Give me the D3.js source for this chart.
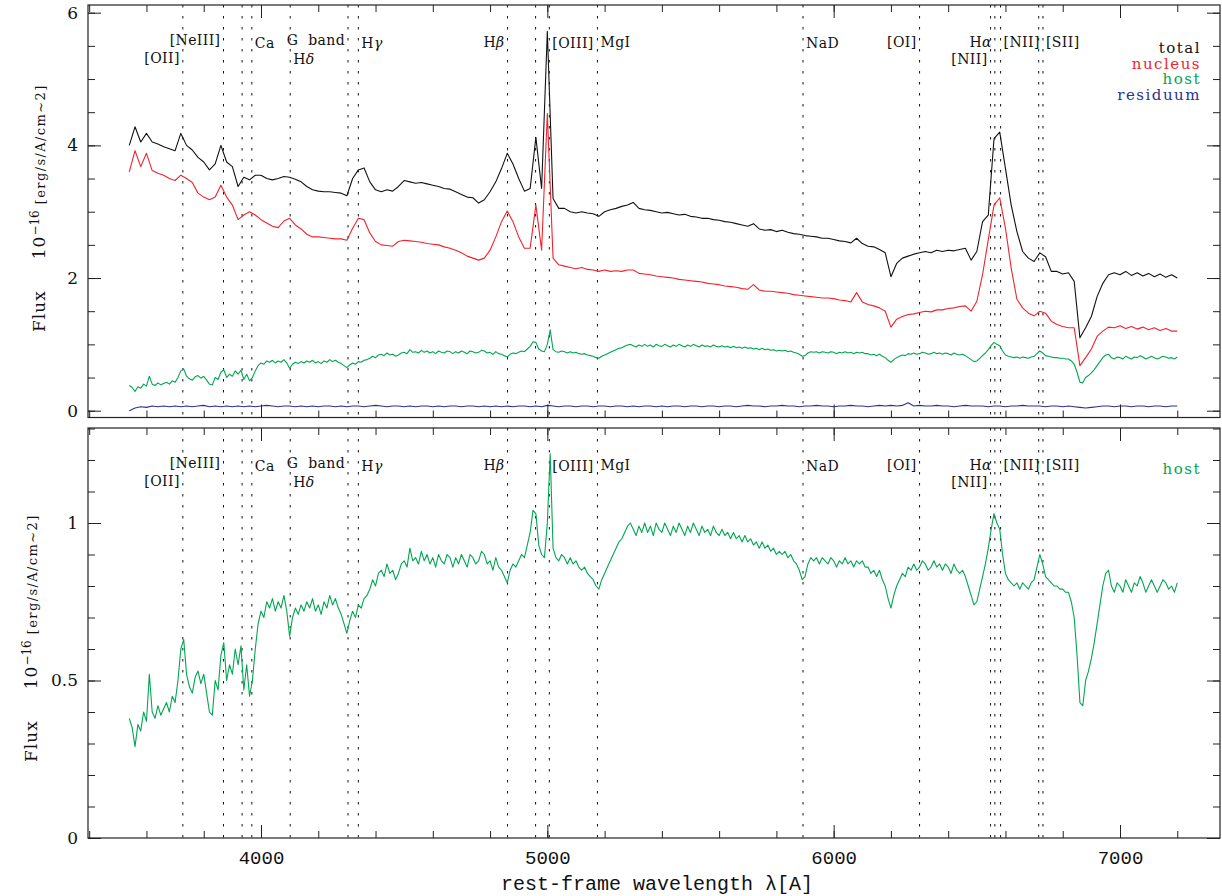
<!DOCTYPE html>
<html>
<head>
<meta charset="utf-8">
<script src="https://cdn.jsdelivr.net/npm/d3@7"></script>
<style>
  body { margin: 0; background: #fff; }
  svg { display: block; }
</style>
</head>
<body>
<svg id="chart" width="1222" height="896" font-family="DejaVu Serif, serif"></svg>
<script>
// rest-frame wavelength grids (Angstrom): 20 A for the fitted components, 10 A for the host
const wavelength = d3.range(3540, 7201, 20);
const hostWavelength = d3.range(3540, 7201, 10);

// flux values (rows of 200 A)
const total = [
  4.00, 4.28, 4.05, 4.18, 4.05, 4.02, 3.98, 3.95, 3.92, 4.18,  // 3540
  4.00, 3.93, 3.82, 3.75, 3.63, 3.72, 4.00, 3.75, 3.68, 3.38,  // 3740
  3.52, 3.48, 3.55, 3.55, 3.50, 3.48, 3.50, 3.53, 3.52, 3.49,  // 3940
  3.45, 3.38, 3.33, 3.31, 3.30, 3.30, 3.29, 3.28, 3.24, 3.50,  // 4140
  3.63, 3.66, 3.45, 3.33, 3.30, 3.33, 3.31, 3.38, 3.47, 3.45,  // 4340
  3.43, 3.44, 3.42, 3.40, 3.38, 3.35, 3.34, 3.30, 3.26, 3.22,  // 4540
  3.21, 3.13, 3.18, 3.30, 3.45, 3.65, 3.88, 3.72, 3.50, 3.31,  // 4740
  3.35, 4.12, 3.35, 5.72, 3.20, 3.05, 3.05, 3.00, 2.98, 3.00,  // 4940
  2.98, 2.97, 2.93, 3.00, 3.03, 3.05, 3.08, 3.10, 3.14, 3.05,  // 5140
  3.03, 3.02, 3.00, 2.98, 2.99, 2.97, 2.95, 2.96, 2.93, 2.92,  // 5340
  2.90, 2.90, 2.88, 2.87, 2.85, 2.84, 2.82, 2.80, 2.78, 2.82,  // 5540
  2.74, 2.72, 2.73, 2.70, 2.72, 2.69, 2.67, 2.66, 2.64, 2.63,  // 5740
  2.62, 2.60, 2.60, 2.58, 2.56, 2.55, 2.53, 2.60, 2.52, 2.48,  // 5940
  2.47, 2.43, 2.38, 2.02, 2.22, 2.30, 2.33, 2.36, 2.38, 2.40,  // 6140
  2.38, 2.42, 2.40, 2.42, 2.41, 2.43, 2.45, 2.27, 2.40, 2.85,  // 6340
  2.95, 4.10, 4.20, 3.65, 3.10, 2.70, 2.40, 2.30, 2.25, 2.38,  // 6540
  2.32, 2.10, 2.10, 2.06, 2.08, 1.95, 1.10, 1.25, 1.42, 1.72,  // 6740
  1.92, 2.05, 2.08, 2.05, 2.10, 2.04, 2.08, 2.03, 2.07, 2.02,  // 6940
  2.06, 2.01, 2.05, 2.00                                       // 7140
];

const nucleus = [
  3.60, 3.92, 3.68, 3.88, 3.62, 3.58, 3.55, 3.50, 3.47, 3.55,
  3.50, 3.44, 3.28, 3.22, 3.18, 3.22, 3.40, 3.22, 3.10, 2.88,
  2.95, 3.00, 2.95, 2.88, 2.83, 2.78, 2.76, 2.86, 2.90, 2.80,
  2.74, 2.66, 2.62, 2.62, 2.61, 2.60, 2.59, 2.59, 2.57, 2.75,
  2.90, 2.88, 2.68, 2.55, 2.50, 2.49, 2.48, 2.55, 2.57, 2.56,
  2.55, 2.54, 2.52, 2.51, 2.50, 2.47, 2.45, 2.42, 2.38, 2.33,
  2.30, 2.27, 2.30, 2.42, 2.62, 2.85, 3.01, 2.85, 2.62, 2.45,
  2.45, 3.10, 2.42, 4.48, 2.30, 2.20, 2.18, 2.16, 2.14, 2.16,
  2.13, 2.12, 2.10, 2.12, 2.10, 2.11, 2.10, 2.12, 2.12, 2.07,
  2.06, 2.05, 2.03, 2.02, 2.01, 2.00, 1.98, 1.97, 1.96, 1.95,
  1.94, 1.92, 1.91, 1.90, 1.88, 1.87, 1.86, 1.84, 1.83, 1.90,
  1.82, 1.80, 1.80, 1.79, 1.78, 1.77, 1.75, 1.74, 1.73, 1.72,
  1.71, 1.70, 1.70, 1.69, 1.67, 1.66, 1.64, 1.78, 1.64, 1.60,
  1.58, 1.55, 1.50, 1.26, 1.38, 1.42, 1.45, 1.46, 1.48, 1.50,
  1.49, 1.52, 1.52, 1.54, 1.55, 1.57, 1.58, 1.50, 1.65, 2.05,
  2.58, 3.10, 3.21, 2.75, 2.15, 1.68, 1.55, 1.47, 1.43, 1.50,
  1.47, 1.35, 1.30, 1.27, 1.25, 1.25, 0.68, 0.80, 0.93, 1.12,
  1.20, 1.26, 1.25, 1.28, 1.24, 1.27, 1.23, 1.26, 1.22, 1.25,
  1.21, 1.24, 1.20, 1.20
];

// host galaxy (10 A steps, rows of 200 A)
const host = [
  0.38, 0.35, 0.29, 0.36, 0.34, 0.40, 0.37, 0.52, 0.40, 0.38, 0.42, 0.39, 0.41, 0.43, 0.40, 0.45, 0.43, 0.50, 0.60, 0.63,  // 3540
  0.52, 0.48, 0.46, 0.51, 0.53, 0.49, 0.52, 0.46, 0.40, 0.39, 0.50, 0.47, 0.58, 0.62, 0.50, 0.55, 0.52, 0.60, 0.55, 0.61,  // 3740
  0.47, 0.55, 0.45, 0.50, 0.60, 0.68, 0.72, 0.70, 0.75, 0.73, 0.76, 0.72, 0.75, 0.73, 0.77, 0.72, 0.64, 0.70, 0.73, 0.71,  // 3940
  0.74, 0.72, 0.75, 0.73, 0.76, 0.72, 0.74, 0.71, 0.75, 0.73, 0.77, 0.74, 0.76, 0.73, 0.71, 0.68, 0.65, 0.69, 0.72, 0.70,  // 4140
  0.74, 0.73, 0.76, 0.77, 0.79, 0.82, 0.80, 0.84, 0.85, 0.83, 0.87, 0.84, 0.85, 0.82, 0.84, 0.87, 0.88, 0.86, 0.92, 0.88,  // 4340
  0.89, 0.87, 0.91, 0.88, 0.90, 0.87, 0.89, 0.86, 0.90, 0.88, 0.87, 0.90, 0.89, 0.86, 0.89, 0.87, 0.90, 0.88, 0.86, 0.90,  // 4540
  0.89, 0.87, 0.88, 0.91, 0.90, 0.87, 0.88, 0.85, 0.89, 0.86, 0.85, 0.83, 0.81, 0.85, 0.87, 0.86, 0.88, 0.90, 0.89, 0.93,  // 4740
  0.97, 1.04, 1.03, 0.93, 0.90, 0.89, 1.00, 1.22, 0.92, 0.89, 0.88, 0.90, 0.89, 0.87, 0.89, 0.87, 0.88, 0.86, 0.85, 0.86,  // 4940
  0.84, 0.83, 0.82, 0.80, 0.79, 0.82, 0.84, 0.86, 0.88, 0.90, 0.92, 0.94, 0.95, 0.97, 0.99, 1.00, 0.98, 0.96, 0.99, 0.97,  // 5140
  1.00, 0.97, 0.99, 0.96, 1.00, 0.98, 0.97, 1.00, 0.98, 0.96, 0.99, 0.97, 1.00, 0.98, 0.96, 0.99, 0.97, 1.00, 0.98, 0.96,  // 5340
  0.99, 0.97, 0.98, 0.96, 0.99, 0.97, 0.96, 0.98, 0.96, 0.97, 0.95, 0.97, 0.95, 0.96, 0.94, 0.96, 0.94, 0.95, 0.93, 0.94,  // 5540
  0.92, 0.94, 0.92, 0.93, 0.91, 0.92, 0.90, 0.91, 0.90, 0.91, 0.89, 0.90, 0.88, 0.87, 0.85, 0.82, 0.83, 0.87, 0.89, 0.88,  // 5740
  0.89, 0.87, 0.89, 0.88, 0.87, 0.89, 0.88, 0.86, 0.88, 0.87, 0.89, 0.87, 0.88, 0.86, 0.88, 0.87, 0.88, 0.86, 0.86, 0.84,  // 5940
  0.85, 0.83, 0.85, 0.82, 0.80, 0.76, 0.73, 0.77, 0.80, 0.82, 0.84, 0.83, 0.86, 0.85, 0.87, 0.85, 0.86, 0.88, 0.87, 0.85,  // 6140
  0.86, 0.88, 0.86, 0.87, 0.85, 0.87, 0.86, 0.84, 0.87, 0.85, 0.84, 0.85, 0.83, 0.80, 0.77, 0.74, 0.75, 0.79, 0.83, 0.87,  // 6340
  0.92, 0.98, 1.03, 1.00, 0.98, 0.90, 0.84, 0.82, 0.81, 0.80, 0.81, 0.79, 0.81, 0.80, 0.79, 0.81, 0.82, 0.86, 0.90, 0.87,  // 6540
  0.83, 0.82, 0.81, 0.80, 0.80, 0.79, 0.79, 0.78, 0.78, 0.75, 0.70, 0.58, 0.43, 0.42, 0.50, 0.53, 0.57, 0.62, 0.68, 0.74,  // 6740
  0.80, 0.84, 0.85, 0.80, 0.78, 0.81, 0.80, 0.78, 0.82, 0.80, 0.78, 0.81, 0.80, 0.83, 0.81, 0.78, 0.80, 0.82, 0.80, 0.78,  // 6940
  0.80, 0.82, 0.81, 0.79, 0.80, 0.78, 0.81                                                                                   // 7140
];

const residuum = [
  0.00, 0.04, 0.06, 0.05, 0.07, 0.06, 0.07, 0.06, 0.07, 0.06,
  0.07, 0.06, 0.07, 0.08, 0.06, 0.07, 0.06, 0.07, 0.06, 0.07,
  0.06, 0.07, 0.06, 0.07, 0.08, 0.07, 0.06, 0.07, 0.07, 0.06,
  0.07, 0.06, 0.07, 0.06, 0.07, 0.07, 0.06, 0.07, 0.06, 0.07,
  0.07, 0.06, 0.07, 0.08, 0.07, 0.06, 0.07, 0.07, 0.06, 0.07,
  0.06, 0.07, 0.07, 0.06, 0.07, 0.06, 0.07, 0.07, 0.06, 0.07,
  0.07, 0.06, 0.07, 0.06, 0.07, 0.06, 0.07, 0.06, 0.07, 0.07,
  0.06, 0.07, 0.06, 0.08, 0.07, 0.06, 0.07, 0.07, 0.06, 0.07,
  0.07, 0.06, 0.07, 0.07, 0.06, 0.07, 0.07, 0.06, 0.07, 0.06,
  0.07, 0.07, 0.06, 0.07, 0.06, 0.07, 0.07, 0.06, 0.07, 0.07,
  0.06, 0.07, 0.07, 0.06, 0.07, 0.07, 0.06, 0.07, 0.08, 0.07,
  0.07, 0.06, 0.07, 0.07, 0.08, 0.07, 0.07, 0.06, 0.07, 0.07,
  0.08, 0.07, 0.07, 0.06, 0.07, 0.07, 0.08, 0.07, 0.07, 0.06,
  0.07, 0.08, 0.07, 0.08, 0.07, 0.08, 0.12, 0.07, 0.08, 0.07,
  0.07, 0.08, 0.07, 0.07, 0.06, 0.07, 0.08, 0.07, 0.07, 0.07,
  0.06, 0.07, 0.07, 0.06, 0.07, 0.07, 0.08, 0.07, 0.07, 0.07,
  0.06, 0.07, 0.07, 0.06, 0.07, 0.06, 0.05, 0.04, 0.05, 0.06,
  0.07, 0.07, 0.06, 0.07, 0.07, 0.06, 0.07, 0.07, 0.06, 0.07,
  0.07, 0.06, 0.07, 0.07
];

// marked spectral features (Angstrom)
const lineWaves = [3727, 3869, 3934, 3968, 4102, 4304, 4340, 4861, 4959, 5007,
                   5175, 5893, 6300, 6548, 6563, 6583, 6716, 6731];

// feature names and the line each one belongs to
const lineNames = ["[OII]", "[NeIII]", "Ca", "G  band", "Hδ", "Hγ", "Hβ", "[OIII]",
                   "MgI", "NaD", "[OI]", "Hα", "[NII]", "[NII]", "[SII]"];
const lineOf = [3727, 3869, 3968, 4304, 4102, 4340, 4861, 5007,
                5175, 5893, 6300, 6563, 6548, 6583, 6731];

const seriesNames = ["total", "nucleus", "host", "residuum"];
const seriesColors = ["#111111", "#f2222a", "#00a651", "#2b3193"];

const xTicksMajor = [4000, 5000, 6000, 7000];
const topTicksMajor = [0, 2, 4, 6];
const bottomTicksMajor = [0, 0.5, 1];

// ---- layout ----
const svg = d3.select('#chart');
const left = 88, right = 1220;
const x = d3.scaleLinear().domain([4000, 7000]).range([261, 1120]);

// label placement: side of its line (-1 left / 1 right), baseline below panel top
const labelSide = [-1, -1, 1, -1, 1, 1, -1, 1, 1, 1, -1, -1, -1, 1, 1];
const labelDrop = [58, 40, 43, 40, 59, 43, 42, 43, 42, 43, 42, 42, 59, 42, 42];

function ticks(g, y, yMajor, yMinorStep, top, bottom, xLabels) {
    const xMinor = d3.range(3400, 7300, 200);
    const yDom = y.domain();
    const yMinor = d3.range(Math.ceil(yDom[0] / yMinorStep) * yMinorStep, yDom[1], yMinorStep);

    const put = (ax, tr) => g.append('g').attr('transform', tr).call(ax)
        .call(s => s.select('.domain').remove())
        .call(s => s.selectAll('line').attr('stroke', '#222'));

    put(d3.axisBottom(x).tickValues(xMinor).tickSize(-7).tickFormat(''), `translate(0,${bottom})`);
    put(d3.axisTop(x).tickValues(xMinor).tickSize(-7).tickFormat(''), `translate(0,${top})`);
    put(d3.axisTop(x).tickValues(xTicksMajor).tickSize(-13).tickFormat(''), `translate(0,${top})`);
    const xb = put(d3.axisBottom(x).tickValues(xTicksMajor).tickSize(-13).tickPadding(13)
        .tickFormat(xLabels ? d3.format('d') : ''), `translate(0,${bottom})`);
    xb.attr('font-family', '"Liberation Mono", monospace').attr('font-size', 19);
    xb.selectAll('text').attr('fill', '#111');

    put(d3.axisLeft(y).tickValues(yMinor).tickSize(-7).tickFormat(''), `translate(${left},0)`);
    put(d3.axisRight(y).tickValues(yMinor).tickSize(-7).tickFormat(''), `translate(${right},0)`);
    put(d3.axisRight(y).tickValues(yMajor).tickSize(-13).tickFormat(''), `translate(${right},0)`);
    const yl = put(d3.axisLeft(y).tickValues(yMajor).tickSize(-13).tickPadding(10)
        .tickFormat(d => String(d)), `translate(${left},0)`);
    yl.attr('font-family', '"DejaVu Serif", serif').attr('font-size', 17);
    yl.selectAll('text').attr('fill', '#111');
}

function features(g, top, bottom) {
    g.selectAll('line.feat').data(lineWaves).enter().append('line')
        .attr('class', 'feat')
        .attr('x1', d => x(d)).attr('x2', d => x(d))
        .attr('y1', top).attr('y2', bottom)
        .attr('stroke', '#111').attr('stroke-width', 1)
        .attr('stroke-dasharray', '2.5,8.5');

    lineNames.forEach((name, i) => {
        const side = labelSide[i];
        const t = g.append('text')
            .attr('x', x(lineOf[i]) + side * 3)
            .attr('y', top + labelDrop[i])
            .attr('text-anchor', side < 0 ? 'end' : 'start')
            .attr('font-size', 14)
            .attr('letter-spacing', 0.4)
            .attr('fill', '#111')
            .style('white-space', 'pre');
        // greek letters are set in italics
        name.split(/([\u0370-\u03ff])/).filter(s => s).forEach(part => {
            const sp = t.append('tspan').text(part);
            if (/[\u0370-\u03ff]/.test(part)) sp.attr('font-style', 'italic');
        });
    });
}

function yTitle(xp, yp) {
    const t = svg.append('text')
        .attr('transform', `translate(${xp},${yp}) rotate(-90)`)
        .attr('fill', '#111');
    t.append('tspan').attr('font-size', 17).attr('letter-spacing', 1).text('Flux');
    t.append('tspan').attr('font-size', 17).attr('dx', 31).attr('letter-spacing', 1).text('10');
    t.append('tspan').attr('font-size', 12).attr('dx', 0).attr('dy', -6).text('−16');
    t.append('tspan').attr('font-size', 13).attr('dx', 6).attr('dy', 6)
        .attr('letter-spacing', 1.4).text('[erg/s/A/cm~2]');
}

function frame(top, bottom) {
    svg.append('rect')
        .attr('x', left).attr('y', top)
        .attr('width', right - left).attr('height', bottom - top)
        .attr('fill', 'none').attr('stroke', '#222').attr('stroke-width', 1.2);
}

function spectrum(g, y, waves, values, color) {
    const line = d3.line()
        .x((d, i) => x(waves[i]))
        .y(d => y(d));
    g.append('path').datum(values)
        .attr('d', line)
        .attr('fill', 'none')
        .attr('stroke', color)
        .attr('stroke-width', 1.1)
        .attr('stroke-linejoin', 'round');
}

// ---- upper panel: decomposition ----
const top1 = 5, bottom1 = 417.5;
const y1 = d3.scaleLinear().domain([0, 6]).range([410.7, 12.7]);
y1.domain([y1.invert(bottom1), y1.invert(top1)]).range([bottom1, top1]);
const g1 = svg.append('g');
features(g1, top1, bottom1);
spectrum(g1, y1, wavelength, total, seriesColors[0]);
spectrum(g1, y1, wavelength, nucleus, seriesColors[1]);
spectrum(g1, y1, hostWavelength, host, seriesColors[2]);
spectrum(g1, y1, wavelength, residuum, seriesColors[3]);
ticks(g1, y1, topTicksMajor, 0.5, top1, bottom1, false);
frame(top1, bottom1);
yTitle(45, 332);

seriesNames.forEach((name, i) => {
    svg.append('text')
        .attr('x', 1201).attr('y', 53 + i * 15.6)
        .attr('text-anchor', 'end')
        .attr('font-size', 15).attr('letter-spacing', 1.5)
        .attr('fill', seriesColors[i])
        .text(name);
});

// ---- lower panel: host galaxy ----
const top2 = 428, bottom2 = 838;
const y2 = d3.scaleLinear().domain([0, 1]).range([838, 523]);
y2.domain([0, y2.invert(top2)]).range([bottom2, top2]);
const g2 = svg.append('g');
features(g2, top2, bottom2);
spectrum(g2, y2, hostWavelength, host, seriesColors[2]);
ticks(g2, y2, bottomTicksMajor, 0.1, top2, bottom2, true);
frame(top2, bottom2);
yTitle(37, 762);

svg.append('text')
    .attr('x', 1201).attr('y', 474)
    .attr('text-anchor', 'end')
    .attr('font-size', 15).attr('letter-spacing', 1.5)
    .attr('fill', seriesColors[2])
    .text('host');

svg.append('text')
    .attr('x', 657).attr('y', 890)
    .attr('text-anchor', 'middle')
    .attr('font-family', '"Liberation Mono", monospace')
    .attr('font-size', 20)
    .attr('fill', '#111')
    .text('rest-frame wavelength λ[A]');
</script>
</body>
</html>
